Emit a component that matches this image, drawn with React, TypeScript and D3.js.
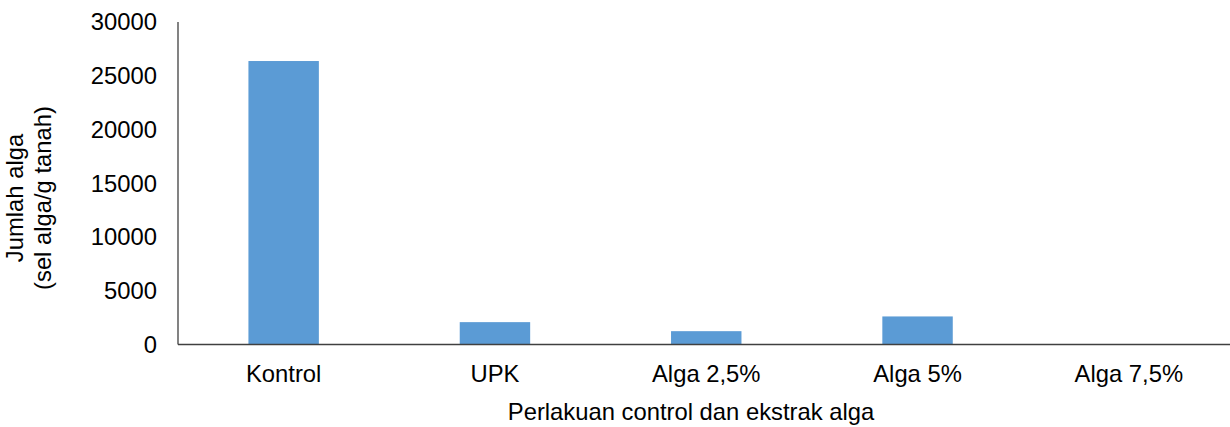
import React, { useEffect, useRef } from 'react';
import * as d3 from 'd3';

const categories = ['Kontrol', 'UPK', 'Alga 2,5%', 'Alga 5%', 'Alga 7,5%'];
const values = [26370, 2080, 1240, 2610, 0];
const yTicks = [0, 5000, 10000, 15000, 20000, 25000, 30000];

const width = 1230;
const height = 427;
const margin = { top: 22, right: -4.5, bottom: 82.5, left: 178 };
const font = '"Liberation Sans", Arial, sans-serif';
const fontSize = 23.8;

export default function App() {
  const svgRef = useRef<SVGSVGElement>(null);

  useEffect(() => {
    if (!svgRef.current) return;
    const svg = d3.select(svgRef.current);
    svg.selectAll('*').remove();

    const x = d3
      .scaleBand<string>()
      .domain(categories)
      .range([margin.left, width - margin.right])
      .paddingInner(2 / 3)
      .paddingOuter(1 / 3);

    const y = d3
      .scaleLinear()
      .domain([0, 30000])
      .range([height - margin.bottom, margin.top]);

    // bars
    svg
      .append('g')
      .selectAll('rect')
      .data(values)
      .enter()
      .append('rect')
      .attr('x', (_, i) => x(categories[i])!)
      .attr('y', (d) => y(d))
      .attr('width', x.bandwidth())
      .attr('height', (d) => y(0) - y(d))
      .attr('fill', '#5B9BD5');

    // y axis line + labels
    svg
      .append('line')
      .attr('x1', margin.left)
      .attr('x2', margin.left)
      .attr('y1', y(30000))
      .attr('y2', y(0))
      .attr('stroke', '#404040')
      .attr('stroke-width', 1.3);

    svg
      .append('g')
      .selectAll('text')
      .data(yTicks)
      .enter()
      .append('text')
      .attr('x', 157)
      .attr('y', (d) => y(d))
      .attr('dy', '0.35em')
      .attr('text-anchor', 'end')
      .attr('font-family', font)
      .attr('font-size', fontSize)
      .attr('fill', '#000')
      .text((d) => String(d));

    // x axis line + labels
    svg
      .append('line')
      .attr('x1', margin.left)
      .attr('x2', width)
      .attr('y1', y(0))
      .attr('y2', y(0))
      .attr('stroke', '#404040')
      .attr('stroke-width', 1.5);

    svg
      .append('g')
      .selectAll('text')
      .data(categories)
      .enter()
      .append('text')
      .attr('x', (d) => x(d)! + x.bandwidth() / 2)
      .attr('y', 382)
      .attr('text-anchor', 'middle')
      .attr('font-family', font)
      .attr('font-size', fontSize)
      .attr('fill', '#000')
      .text((d) => d);

    // axis titles
    svg
      .append('text')
      .attr('x', 691)
      .attr('y', 420)
      .attr('text-anchor', 'middle')
      .attr('font-family', font)
      .attr('font-size', fontSize)
      .attr('fill', '#000')
      .text('Perlakuan control dan ekstrak alga');

    const yTitle = svg
      .append('text')
      .attr('transform', 'translate(0,198) rotate(-90)')
      .attr('text-anchor', 'middle')
      .attr('font-family', font)
      .attr('font-size', fontSize)
      .attr('fill', '#000');
    yTitle.append('tspan').attr('x', 0).attr('y', 23).text('Jumlah alga');
    yTitle.append('tspan').attr('x', 0).attr('y', 51).text('(sel alga/g tanah)');
  }, []);

  return (
    <svg
      ref={svgRef}
      width={width}
      height={height}
      style={{ position: 'absolute', left: 0, top: 0, background: '#fff' }}
    />
  );
}
